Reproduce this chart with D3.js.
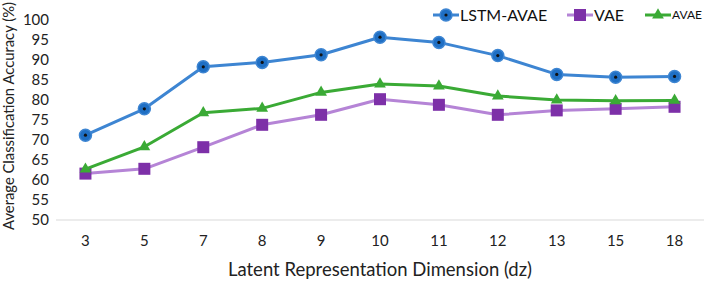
<!DOCTYPE html>
<html>
<head>
<meta charset="utf-8">
<script src="https://cdn.jsdelivr.net/npm/d3@7"></script>
<style>
  body { margin: 0; background: #fff; }
  svg { display: block; font-family: Lato, "Open Sans", sans-serif; }
</style>
</head>
<body>
<svg id="chart"></svg>
<script>
// data
const dims = ["3", "5", "7", "8", "9", "10", "11", "12", "13", "15", "18"];
const lstmAvae = [71.2, 77.8, 88.3, 89.4, 91.3, 95.7, 94.4, 91.1, 86.4, 85.7, 85.9];
const vae = [61.6, 62.8, 68.2, 73.8, 76.3, 80.2, 78.8, 76.3, 77.4, 77.8, 78.3];
const avae = [62.7, 68.3, 76.8, 77.9, 81.9, 84.0, 83.5, 81.0, 80.0, 79.8, 79.9];
const yTicks = [50, 55, 60, 65, 70, 75, 80, 85, 90, 95, 100];

const width = 706, height = 286;
const margin = {top: 20, right: 2, bottom: 66, left: 56};

const svg = d3.select("#chart")
  .attr("width", width)
  .attr("height", height);

const x = d3.scaleBand()
  .domain(dims)
  .range([margin.left, width - margin.right]);

const y = d3.scaleLinear()
  .domain([50, 100])
  .range([height - margin.bottom, margin.top]);

// y tick labels
svg.append("g")
  .selectAll("text")
  .data(yTicks)
  .join("text")
    .attr("x", 49)
    .attr("y", d => y(d))
    .attr("dy", "0.35em")
    .attr("text-anchor", "end")
    .attr("font-size", 15)
    .attr("fill", "#222")
    .text(d => d);

// baseline
svg.append("line")
  .attr("x1", margin.left)
  .attr("x2", width - margin.right)
  .attr("y1", y(50))
  .attr("y2", y(50))
  .attr("stroke", "#d9d9d9")
  .attr("stroke-width", 1.2);

// x tick labels
svg.append("g")
  .selectAll("text")
  .data(dims)
  .join("text")
    .attr("x", d => x(d) + x.bandwidth() / 2)
    .attr("y", y(50) + 21)
    .attr("dy", "0.35em")
    .attr("text-anchor", "middle")
    .attr("font-size", 15)
    .attr("fill", "#222")
    .text(d => d);

// axis titles
svg.append("text")
  .attr("x", 380)
  .attr("y", 276)
  .attr("text-anchor", "middle")
  .attr("font-size", 18.5)
  .attr("fill", "#222")
  .text("Latent Representation Dimension (dz)");

svg.append("text")
  .attr("transform", "translate(14,116) rotate(-90)")
  .attr("text-anchor", "middle")
  .attr("font-size", 14.8)
  .attr("fill", "#222")
  .text("Average Classification Accuracy (%)");

const series = [
  {name: "LSTM-AVAE", values: lstmAvae, line: "#3d85d2", mark: "circle", fill: "#1f6fc4", legendX: 433, fontSize: 16},
  {name: "VAE", values: vae, line: "#b584d6", mark: "square", fill: "#7d30a8", legendX: 567, fontSize: 16},
  {name: "AVAE", values: avae, line: "#3aaa35", mark: "triangle", fill: "#3aaa35", legendX: 645, fontSize: 12}
];

const line = d3.line()
  .x((d, i) => x(dims[i]) + x.bandwidth() / 2)
  .y(d => y(d));

function drawMarker(g, s) {
  if (s.mark === "circle") {
    g.append("circle").attr("r", 6).attr("fill", s.fill).attr("stroke", "#3d85d2").attr("stroke-width", 1.5);
    g.append("circle").attr("r", 1.6).attr("fill", "#111");
  } else if (s.mark === "square") {
    g.append("rect").attr("x", -6).attr("y", -6).attr("width", 12).attr("height", 12).attr("fill", s.fill);
  } else {
    g.append("path").attr("d", d3.symbol(d3.symbolTriangle, 60)()).attr("fill", s.fill);
  }
}

// draw in order VAE, AVAE, LSTM
[series[1], series[2], series[0]].forEach(s => {
  svg.append("path")
    .datum(s.values)
    .attr("fill", "none")
    .attr("stroke", s.line)
    .attr("stroke-width", 3)
    .attr("stroke-linejoin", "round")
    .attr("d", line);
  svg.append("g")
    .selectAll("g")
    .data(s.values)
    .join("g")
      .attr("transform", (d, i) => `translate(${x(dims[i]) + x.bandwidth() / 2},${y(d)})`)
      .each(function() { drawMarker(d3.select(this), s); });
});

// legend
series.forEach(s => {
  const g = svg.append("g").attr("transform", `translate(${s.legendX},15)`);
  g.append("line").attr("x1", 0).attr("x2", 26).attr("stroke", s.line).attr("stroke-width", 3);
  const m = g.append("g").attr("transform", "translate(13,0)");
  drawMarker(m, s);
  g.append("text")
    .attr("x", 27)
    .attr("dy", "0.35em")
    .attr("font-size", s.fontSize)
    .attr("fill", "#111")
    .text(s.name);
});
</script>
</body>
</html>
